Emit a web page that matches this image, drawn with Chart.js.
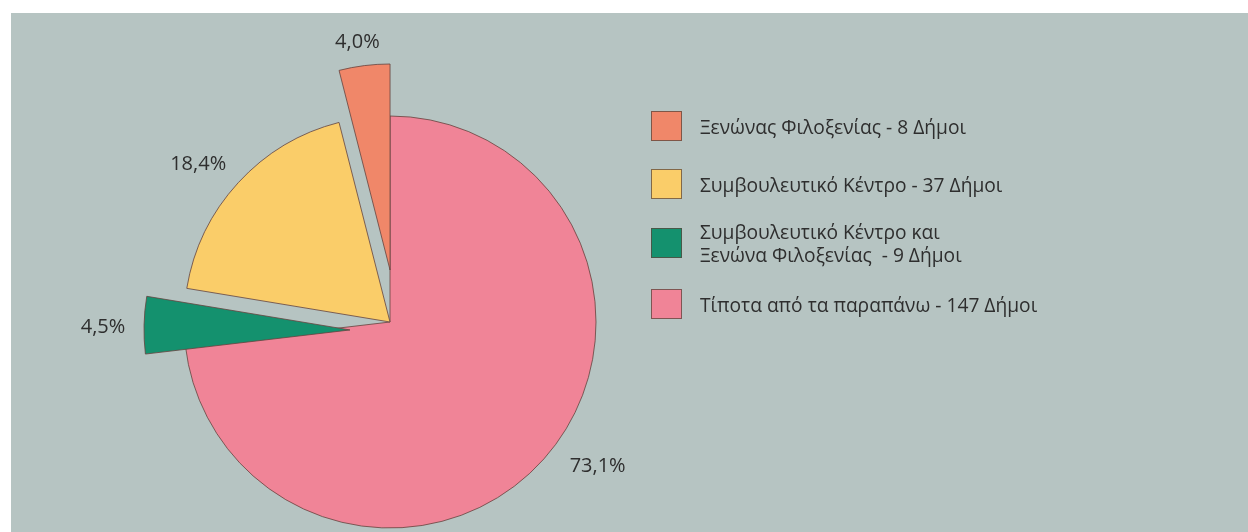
<!DOCTYPE html>
<html>
<head>
<meta charset="utf-8">
<script src="https://cdn.jsdelivr.net/npm/chart.js@4.4.1/dist/chart.umd.min.js"></script>
<style>
  html, body { margin: 0; padding: 0; background: #ffffff; }
  #wrap { position: relative; width: 1248px; height: 532px; overflow: hidden; background: #ffffff; }
  #panel { position: absolute; left: 11px; top: 13px; right: 0; bottom: 0; background: #b6c4c2; }
  #c { position: absolute; left: 0; top: 0; }
  .lg-row { position: absolute; left: 651px; display: flex; align-items: center; }
  .lg-sw { width: 29px; height: 28px; border: 1px solid rgba(90,70,60,0.75); flex: none; }
  .lg-tx { margin-left: 18px; font-family: "Open Sans", sans-serif; font-size: 19.2px; line-height: 23px; color: #2e2e2e; white-space: pre; }
</style>
</head>
<body>
<div id="wrap">
  <div id="panel"></div>
  <canvas id="c" width="1248" height="532"></canvas>
  <div id="legend"></div>
</div>
<script>
// ---- data (legend order) ----
const categories = [
  "Ξενώνας Φιλοξενίας - 8 Δήμοι",
  "Συμβουλευτικό Κέντρο - 37 Δήμοι",
  "Συμβουλευτικό Κέντρο και\nΞενώνα Φιλοξενίας  - 9 Δήμοι",
  "Τίποτα από τα παραπάνω - 147 Δήμοι"
];
const values = [8, 37, 9, 147];
const colors = ["#f08769", "#facd69", "#14916e", "#f08497"];

// explode distance (px) and direction tweak relative to the slice bisector (deg)
const explode = [
  { d: 52, dAng: 7.2 },
  { d: 0, dAng: 0 },
  { d: 40.8, dAng: -12.6 },
  { d: 0, dAng: 0 }
];

// ---- chart data is drawn clockwise from the top: reverse of legend order ----
const order = [3, 2, 1, 0];
const total = values.reduce((a, b) => a + b, 0);
const pct = values.map(v => (v / total * 100).toFixed(1).replace('.', ',') + '%');

// label placement: extra radius beyond slice edge, angle tweak (deg), by legend index
const labelPlace = [
  { extra: 24, dAng: -1.0 },
  { extra: 42, dAng: -3.2 },
  { extra: 41, dAng: -0.7 },
  { extra: 47, dAng: -6.8 }
];

const deg = Math.PI / 180;

// explode slices: move the whole slice (no enlargement)
const explodePlugin = {
  id: 'explodeSlices',
  afterDatasetUpdate(chart, args) {
    args.meta.data.forEach((arc, k) => {
      const e = explode[order[k]];
      if (!e.d) return;
      const dir = (arc.startAngle + arc.endAngle) / 2 + e.dAng * deg;
      arc.x += Math.cos(dir) * e.d;
      arc.y += Math.sin(dir) * e.d;
    });
  }
};

const pctLabels = {
  id: 'pctLabels',
  afterDatasetsDraw(chart) {
    const ctx = chart.ctx;
    const meta = chart.getDatasetMeta(0);
    ctx.save();
    ctx.font = '20px "Open Sans", sans-serif';
    ctx.fillStyle = '#2e2e2e';
    ctx.textAlign = 'center';
    ctx.textBaseline = 'middle';
    meta.data.forEach((arc, k) => {
      const i = order[k];
      const p = arc.getProps(['x', 'y', 'startAngle', 'endAngle', 'outerRadius'], true);
      const mid = (p.startAngle + p.endAngle) / 2 + labelPlace[i].dAng * deg;
      const r = p.outerRadius + labelPlace[i].extra;
      ctx.fillText(pct[i], p.x + Math.cos(mid) * r, p.y + Math.sin(mid) * r);
    });
    ctx.restore();
  }
};

new Chart(document.getElementById('c'), {
  type: 'pie',
  data: {
    labels: order.map(i => categories[i]),
    datasets: [{
      data: order.map(i => values[i]),
      backgroundColor: order.map(i => colors[i]),
      borderColor: 'rgba(100,68,62,0.8)',
      borderWidth: 1,
      radius: 206
    }]
  },
  options: {
    responsive: false,
    animation: false,
    events: [],
    layout: { padding: { left: 0, right: 468, top: 112, bottom: 0 } },
    plugins: { legend: { display: false }, tooltip: { enabled: false } }
  },
  plugins: [explodePlugin, pctLabels]
});

// ---- HTML legend ----
const legendTops = [110, 168, 227, 288];
const lg = document.getElementById('legend');
categories.forEach((txt, i) => {
  const row = document.createElement('div');
  row.className = 'lg-row';
  const sw = document.createElement('div');
  sw.className = 'lg-sw';
  sw.style.background = colors[i];
  const tx = document.createElement('div');
  tx.className = 'lg-tx';
  tx.textContent = txt;
  row.appendChild(sw);
  row.appendChild(tx);
  lg.appendChild(row);
  const h = row.getBoundingClientRect().height;
  row.style.top = (legendTops[i] + 15 - h / 2 + 1) + 'px';
});
</script>
</body>
</html>
